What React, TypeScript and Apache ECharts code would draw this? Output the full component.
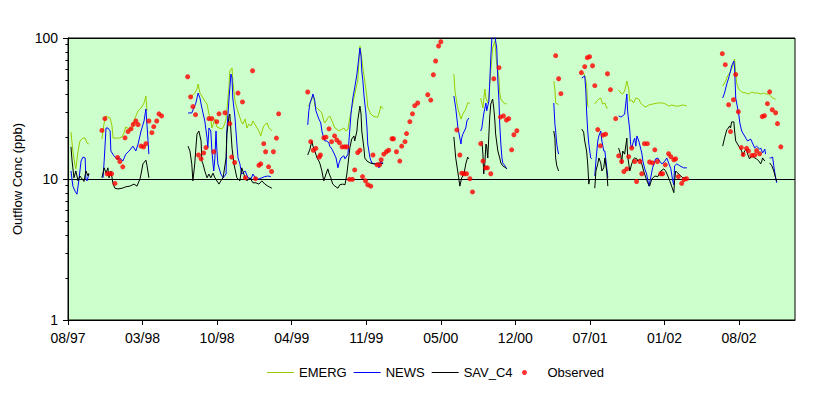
import React, { useEffect, useRef } from 'react';
import * as echarts from 'echarts';

type Pt = [number, number];

// x values are days counted from the first labelled tick (08/97)
const xTickLabels = ['08/97', '03/98', '10/98', '04/99', '11/99', '05/00', '12/00', '07/01', '01/02', '08/02'];
const X_STEP = 200;
const X_MAX = 1950;
const yMinorTicks = [2, 3, 4, 5, 6, 7, 8, 9, 20, 30, 40, 50, 60, 70, 80, 90];

const emergSegments: Pt[][] = [
  [[8,21.5],[13,15.8],[19,12.4],[21,11.8],[27,15.8],[32,18.6],[40,19.5],[46,19.5],[51,18.0],[56,17.7]],
  [[91,19.2],[97,25.0],[102,28.0],[107,27.5],[113,27.1],[118,23.8],[121,19.5],[129,19.5],[137,19.5],[145,19.9],[150,21.2],[155,23.4],[164,22.6],[172,22.6],[180,27.1],[188,30.4],[196,31.9],[204,34.6],[209,38.8],[212,30.4]],
  [[324,38.8],[332,38.8],[340,40.7],[346,43.5],[349,47.2],[354,40.7],[359,38.8],[367,35.7],[373,34.0],[378,28.9],[383,26.6],[386,23.0],[394,26.6],[399,23.4],[405,23.0],[413,22.6],[418,23.8],[424,26.6],[426,30.4],[432,45.6],[434,58.3],[440,61.3],[442,49.5],[448,35.7],[453,31.9],[458,28.9],[464,25.8],[469,24.5],[475,26.6],[480,23.0],[485,24.5],[491,23.8],[496,25.8],[504,23.8],[512,21.9],[517,20.2],[525,23.8],[534,25.0],[539,23.0],[547,21.9]],
  [[643,32.9],[649,34.0],[657,38.8],[660,37.5],[662,32.9],[670,31.4],[676,30.4],[681,29.4],[686,25.8],[689,25.0],[697,27.1],[702,28.0],[708,25.8],[716,23.0],[721,22.6],[727,21.9],[735,22.6],[740,23.0],[745,21.9],[751,22.6],[753,24.5],[756,27.1],[761,31.9],[767,37.5],[772,43.5],[777,49.5],[780,66.5],[783,87.8],[786,78.3],[791,61.3],[794,53.8],[799,43.5],[802,37.5],[804,32.4],[812,28.9],[818,28.0],[826,27.5],[831,27.5],[836,30.4],[839,32.9],[845,31.4]],
  [[1035,55.5],[1038,42.1],[1043,34.6],[1046,31.4],[1054,26.6],[1059,28.9],[1067,31.4],[1072,34.6],[1078,34.6]],
  [[1107,37.5],[1113,31.9],[1118,43.5],[1121,37.5],[1126,34.6],[1129,38.8],[1134,58.3],[1139,84.9],[1145,95.2],[1147,80.9],[1150,65.4],[1156,52.0],[1158,40.7],[1161,36.9],[1169,34.6],[1174,34.0],[1177,34.6]],
  [[1303,49.5],[1306,43.5],[1308,34.6],[1314,34.0],[1316,33.5]],
  [[1383,56.5],[1386,53.8],[1391,47.2],[1394,32.9],[1397,32.4]],
  [[1413,34.0],[1418,35.7],[1424,36.9],[1429,37.5],[1434,34.0],[1440,34.6],[1445,31.9],[1448,31.9]],
  [[1477,42.8],[1483,40.7],[1488,40.1],[1493,42.1],[1499,49.5],[1504,43.5],[1507,35.7],[1512,36.3],[1517,34.6],[1523,37.5],[1531,36.9],[1536,34.6],[1544,32.9],[1550,32.4],[1558,33.5],[1568,34.0],[1582,34.6],[1595,34.6],[1603,34.0],[1611,32.9],[1619,33.5],[1630,32.9],[1638,32.9],[1649,33.5],[1660,32.9]],
  [[1756,45.6],[1764,49.5],[1769,53.8],[1775,56.5],[1783,63.3],[1788,71.0],[1791,55.5],[1794,47.2],[1799,43.5],[1807,41.4],[1818,40.7],[1826,40.1],[1834,41.4],[1842,40.7],[1850,40.7],[1858,40.1],[1866,40.7],[1871,40.1],[1879,40.1],[1885,38.8],[1890,37.5],[1898,36.9]],
];

const newsSegments: Pt[][] = [
  [[8,11.4],[13,8.9],[19,8.2],[24,7.8],[29,9.7],[35,13.4],[40,14.3],[46,14.1],[48,10.0],[51,9.7],[56,10.85]],
  [[94,10.2],[97,13.4],[102,23.0],[107,23.0],[113,21.9],[115,15.8],[123,14.6],[131,13.9],[139,14.1],[147,13.4],[155,15.0],[164,15.8],[174,17.1],[182,15.8],[188,17.7],[196,21.9],[204,25.8],[209,31.4],[212,23.8],[217,15.0]],
  [[322,29.4],[332,29.4],[343,34.6],[349,40.7],[354,37.5],[357,34.0],[362,29.4],[367,25.8],[373,19.5],[375,16.6],[378,23.0],[383,21.9],[386,15.8],[389,12.8],[391,11.4],[394,14.1],[397,21.9],[399,16.6],[402,12.8],[410,10.85],[416,10.2],[424,10.85],[426,21.9],[432,37.5],[437,55.5],[440,52.0],[442,37.5],[448,27.1],[453,17.7],[456,14.1],[461,12.8],[466,10.85],[475,11.4],[483,10.2],[491,10.0],[496,10.85],[504,10.0],[512,10.0],[520,10.2],[528,10.4],[536,10.5],[544,10.4]],
  [[643,24.2],[646,30.4],[649,34.6],[654,37.5],[657,40.1],[662,35.7],[665,30.4],[673,26.6],[678,25.0],[681,21.9],[686,19.5],[689,18.6],[694,18.6],[700,18.0],[702,17.1],[708,16.3],[713,15.3],[719,14.1],[724,12.0],[727,13.0],[732,14.1],[740,14.6],[743,13.9],[751,15.0],[753,17.7],[759,28.9],[764,37.5],[769,44.2],[775,55.5],[780,72.2],[783,84.9],[786,74.5],[788,58.3],[791,49.5],[794,38.8],[799,29.4],[802,23.0],[804,17.7],[810,14.1],[815,13.0],[823,12.8],[828,12.8],[831,13.0],[834,12.0],[839,13.4],[845,12.8]],
  [[1035,38.8],[1040,31.9],[1046,23.0],[1054,17.7],[1056,19.5],[1059,20.8],[1067,23.0],[1070,25.8],[1075,27.1]],
  [[1107,21.9],[1110,23.0],[1115,28.9],[1121,34.6],[1123,30.4],[1129,35.7],[1131,47.2],[1134,72.2],[1137,100],[1142,112],[1145,103],[1147,95.2],[1150,84.9],[1153,49.5],[1156,35.7],[1158,24.5],[1161,17.7],[1164,14.1],[1166,13.0],[1172,12.4],[1177,11.8]],
  [[1303,34.6],[1306,24.5],[1308,21.9],[1311,17.7],[1314,15.8],[1316,15.0]],
  [[1378,52.0],[1386,53.8],[1389,42.1],[1391,30.4],[1394,21.9],[1397,17.7],[1402,14.1],[1405,13.9]],
  [[1413,10.5],[1416,13.4],[1421,18.6],[1424,20.2],[1429,21.9],[1432,18.6],[1437,15.8],[1440,15.8],[1445,12.0],[1448,10.2]],
  [[1477,28.0],[1483,27.5],[1488,28.0],[1493,28.9],[1496,34.0],[1499,40.1],[1501,30.4],[1507,21.9],[1509,17.7],[1512,16.6],[1517,18.6],[1520,19.5],[1523,17.1],[1526,20.2],[1531,18.6],[1539,15.3],[1542,13.4],[1547,11.8],[1552,10.85],[1558,8.9],[1563,10.2],[1568,12.0],[1576,13.9],[1582,14.1],[1587,13.4],[1593,12.8],[1601,13.4],[1606,14.1],[1611,13.0],[1617,11.8],[1622,9.7],[1625,9.1],[1627,12.4],[1633,12.8],[1641,12.4],[1651,12.0],[1660,12.0]],
  [[1756,37.5],[1761,40.7],[1767,47.2],[1772,52.0],[1777,58.3],[1780,63.3],[1786,68.7],[1788,61.3],[1791,37.5],[1794,34.0],[1799,28.9],[1802,25.0],[1807,21.9],[1818,19.5],[1823,18.6],[1831,19.2],[1836,18.0],[1842,16.6],[1847,17.1],[1855,16.3],[1858,16.6],[1863,15.3],[1869,16.3],[1871,15.0]],
  [[1882,14.1],[1885,14.1],[1890,14.3],[1893,12.4],[1898,10.2],[1901,9.4]],
];

const savSegments: Pt[][] = [
  [[8,16.9],[11,13.4],[16,10.2],[21,11.4],[27,9.7],[32,10.5],[38,10.0],[43,9.6],[48,11.4],[54,10.5],[56,11.0]],
  [[91,10.2],[97,12.0],[102,11.0],[107,12.0],[110,10.2],[115,11.4],[121,9.2],[126,8.6],[134,8.5],[145,8.6],[155,8.8],[166,8.9],[177,9.2],[185,8.9],[193,10.0],[196,10.85],[201,12.8],[209,13.6],[212,12.4],[217,10.2]],
  [[322,17.1],[327,15.8],[332,12.8],[335,9.7],[340,12.8],[343,16.6],[346,20.8],[351,21.9],[357,18.6],[359,13.4],[362,12.8],[367,11.4],[373,10.2],[378,10.85],[383,10.2],[389,11.0],[394,10.2],[405,9.2],[410,9.7],[416,10.2],[424,14.1],[426,20.8],[432,28.0],[434,28.9],[437,21.9],[440,16.6],[445,12.8],[453,10.2],[461,9.7],[466,12.0],[475,10.2],[480,9.7],[488,10.2],[496,9.4],[504,9.4],[512,9.2],[520,9.7],[528,9.2],[536,8.9],[547,8.6]],
  [[643,14.8],[649,16.3],[654,18.6],[657,17.1],[662,15.8],[668,14.1],[673,13.4],[676,12.8],[681,11.4],[686,9.7],[692,10.85],[697,11.8],[700,11.0],[705,10.2],[710,9.2],[716,8.9],[724,8.6],[729,9.1],[737,9.2],[743,9.1],[748,10.85],[753,14.1],[756,16.6],[761,19.2],[767,20.2],[769,18.6],[775,21.9],[777,25.8],[783,32.9],[786,28.9],[788,21.9],[794,16.3],[796,14.1],[802,13.4],[810,13.0],[820,12.8],[828,12.8],[834,13.0],[839,12.8],[845,13.0]],
  [[1035,19.9],[1040,14.1],[1048,10.2],[1051,8.9],[1056,10.2],[1062,10.85],[1067,12.8],[1072,14.3],[1075,13.9]],
  [[1110,18.6],[1113,15.0],[1115,10.85],[1118,12.8],[1121,17.7],[1123,17.1],[1126,14.1],[1129,20.8],[1131,27.1],[1134,34.0],[1139,36.9],[1142,31.9],[1145,25.8],[1147,20.8],[1153,15.8],[1158,14.1],[1161,13.0],[1166,12.4],[1174,12.0],[1177,11.8]],
  [[1303,21.9],[1306,19.5],[1308,14.1],[1311,12.4],[1316,11.4]],
  [[1378,22.6],[1383,21.5],[1386,18.6],[1391,15.8],[1394,12.8],[1397,9.2],[1399,10.0]],
  [[1413,8.6],[1416,11.4],[1421,12.8],[1424,14.1],[1429,13.0],[1432,11.4],[1437,12.0],[1440,14.1],[1445,11.4],[1448,8.9]],
  [[1477,16.6],[1483,14.6],[1485,12.8],[1488,15.8],[1493,15.0],[1499,19.5],[1501,14.6],[1507,11.4],[1512,12.8],[1517,13.9],[1520,14.1],[1526,13.9],[1528,13.4],[1534,13.9],[1539,12.8],[1544,11.4],[1550,10.2],[1555,9.4],[1560,8.9],[1566,10.0],[1574,10.5],[1582,10.4],[1590,11.4],[1598,11.8],[1603,11.4],[1609,10.5],[1614,9.7],[1619,8.9],[1625,8.0],[1627,9.7],[1630,11.4],[1638,10.85],[1649,10.2],[1660,10.2]],
  [[1756,17.1],[1761,19.5],[1767,22.3],[1769,22.6],[1775,23.8],[1777,23.0],[1780,25.4],[1786,25.4],[1788,21.9],[1791,18.6],[1796,17.7],[1802,16.6],[1807,15.8],[1810,14.6],[1815,15.8],[1820,16.3],[1823,15.0],[1828,13.9],[1834,14.6],[1842,14.1],[1847,13.9],[1853,13.4],[1858,12.8],[1861,13.4],[1863,14.1],[1869,13.4]],
  [[1882,13.0],[1888,12.4],[1893,11.4],[1898,10.2],[1901,9.6]],
];

const observed: Pt[] = [
  [91,22.1],[99,26.8],[105,10.9],[111,10.9],[117,10.9],[126,9.3],[133,14.2],[139,13.3],[147,12.2],[153,19.6],
  [161,21.7],[169,22.7],[175,24.4],[182,25.8],[188,24.3],[196,17.1],[203,16.9],[209,17.8],[217,25.8],[225,21.3],
  [230,23.5],[238,25.8],[244,29.0],[251,28.0],[321,53.1],[329,38.2],[335,32.6],[342,28.6],[350,14.8],[357,13.9],
  [364,15.3],[370,16.7],[378,26.8],[386,26.8],[391,15.6],[399,25.5],[405,29.0],[421,29.5],[434,24.7],[439,14.3],
  [447,13.1],[456,40.7],[468,35.2],[476,10.2],[495,58.6],[503,10.05],[512,12.5],[517,12.8],[525,17.8],[530,15.6],
  [538,12.2],[546,11.3],[551,15.6],[559,19.5],[565,29.0],[643,41.4],[651,18.4],[658,16.0],[665,16.5],[674,14.3],
  [677,14.8],[686,19.6],[692,19.8],[700,22.7],[707,18.4],[715,20.2],[721,18.9],[728,18.1],[735,16.9],[742,16.9],
  [748,16.9],[755,9.95],[763,9.95],[769,11.6],[777,15.4],[783,16.0],[790,10.4],[798,9.7],[804,9.1],[812,8.9],
  [818,14.8],[829,12.6],[836,12.6],[840,13.7],[847,15.0],[854,15.6],[860,16.0],[869,19.3],[873,19.3],[881,15.6],
  [890,13.4],[895,17.1],[904,18.4],[908,21.0],[917,25.5],[924,29.0],[930,33.1],[938,34.6],[965,39.6],[973,36.3],
  [980,54.9],[986,68.7],[994,87.8],[1000,94.1],[1043,22.3],[1051,14.8],[1056,11.0],[1062,10.9],[1069,10.9],[1078,10.05],
  [1085,8.1],[1107,17.8],[1113,13.4],[1120,12.0],[1125,12.0],[1134,10.9],[1142,51.4],[1156,61.6],[1160,27.5],[1168,28.0],
  [1176,26.2],[1182,26.8],[1190,16.1],[1196,20.6],[1204,22.0],[1308,74.9],[1316,51.4],[1322,40.3],[1377,56.8],[1386,62.6],
  [1393,72.5],[1399,73.7],[1407,63.6],[1413,45.9],[1421,22.4],[1428,17.2],[1435,20.5],[1442,20.8],[1447,55.8],[1455,43.0],
  [1469,26.8],[1477,14.6],[1485,13.3],[1491,11.3],[1499,11.8],[1504,14.4],[1512,16.6],[1520,13.3],[1525,9.6],[1534,13.3],
  [1539,10.9],[1546,17.8],[1554,17.8],[1560,13.2],[1568,13.0],[1574,16.1],[1581,13.3],[1590,10.9],[1595,10.9],[1602,12.6],
  [1611,15.1],[1617,14.4],[1625,13.7],[1630,13.9],[1637,10.4],[1646,9.3],[1652,9.9],[1659,10.05],[1755,77.4],[1763,64.7],
  [1791,55.1],[1772,33.6],[1785,36.5],[1777,21.7],[1798,30.0],[1806,16.7],[1811,14.9],[1820,16.5],[1825,15.8],[1834,14.7],
  [1842,14.8],[1847,15.9],[1855,15.1],[1862,27.7],[1868,28.1],[1876,34.2],[1882,41.5],[1889,31.0],[1898,29.5],[1903,24.7],
  [1912,16.9],
];

// join segments with an empty point so the line breaks between runs
const joinSegments = (segs: Pt[][]) => {
  const out: (number | string)[][] = [];
  segs.forEach((seg, i) => {
    if (i > 0) out.push([seg[0][0] - 0.5, '-']);
    seg.forEach((p) => out.push([p[0], p[1]]));
  });
  return out;
};

const FONT = '"Liberation Sans", Arial, sans-serif';

export default function App() {
  const ref = useRef<HTMLDivElement>(null);

  useEffect(() => {
    if (!ref.current) return;
    const chart = echarts.init(ref.current, undefined, { renderer: 'svg' });
    const tickValues = xTickLabels.map((_, i) => i * X_STEP);

    chart.setOption({
      animation: false,
      backgroundColor: '#ffffff',
      textStyle: { fontFamily: FONT },
      grid: {
        left: 68,
        top: 38,
        width: 727,
        height: 282,
        show: true,
        backgroundColor: '#CCFFCC',
        borderColor: '#000000',
        borderWidth: 1,
      },
      legend: [
        {
          data: [
            { name: 'EMERG', icon: 'rect' },
            { name: 'NEWS', icon: 'rect' },
            { name: 'SAV_C4', icon: 'rect' },
          ],
          left: 262,
          top: 361,
          itemWidth: 27,
          itemHeight: 1,
          itemGap: 7,
          textStyle: { fontFamily: FONT, fontSize: 13, color: '#000' },
          selectedMode: false,
        },
        {
          data: [{ name: 'Observed', icon: 'circle' }],
          left: 517,
          top: 361,
          itemWidth: 36,
          itemHeight: 5,
          textStyle: { fontFamily: FONT, fontSize: 13, color: '#000' },
          selectedMode: false,
        },
      ],
      xAxis: {
        type: 'value',
        min: 0,
        max: X_MAX,
        interval: X_STEP,
        axisLine: { show: true, lineStyle: { color: '#000', width: 1 } },
        axisTick: { show: true, length: 5, lineStyle: { color: '#000' }, customValues: tickValues },
        axisLabel: {
          color: '#000',
          fontSize: 14,
          fontFamily: FONT,
          margin: 11,
          customValues: tickValues,
          formatter: (v: number) => {
            const i = Math.round(v / X_STEP);
            return Math.abs(v - i * X_STEP) < 1e-6 && i < xTickLabels.length ? xTickLabels[i] : '';
          },
        },
        splitLine: { show: false },
      },
      yAxis: {
        type: 'log',
        logBase: 10,
        min: 1,
        max: 100,
        name: 'Outflow Conc (ppb)',
        nameLocation: 'middle',
        nameRotate: 90,
        nameGap: 40,
        nameTextStyle: { color: '#000', fontSize: 13, fontFamily: FONT },
        axisLine: { show: true, lineStyle: { color: '#000', width: 1 } },
        axisTick: { show: true, length: 5, lineStyle: { color: '#000' } },
        axisLabel: { color: '#000', fontSize: 14, fontFamily: FONT, margin: 10 },
        splitLine: { show: true, lineStyle: { color: '#000', width: 1 } },
      },
      series: [
        {
          name: 'EMERG',
          type: 'line',
          data: joinSegments(emergSegments),
          symbol: 'none',
          connectNulls: false,
          lineStyle: { color: '#99CC00', width: 1 },
          itemStyle: { color: '#99CC00' },
          z: 2,
        },
        {
          name: 'NEWS',
          type: 'line',
          data: joinSegments(newsSegments),
          symbol: 'none',
          connectNulls: false,
          lineStyle: { color: '#0000FF', width: 1 },
          itemStyle: { color: '#0000FF' },
          z: 3,
        },
        {
          name: 'SAV_C4',
          type: 'line',
          data: joinSegments(savSegments),
          symbol: 'none',
          connectNulls: false,
          lineStyle: { color: '#000000', width: 1 },
          itemStyle: { color: '#000000' },
          z: 4,
        },
        {
          name: 'Observed',
          type: 'scatter',
          data: observed,
          symbol: 'circle',
          symbolSize: 5,
          itemStyle: { color: '#FF0000' },
          z: 5,
        },
        {
          name: 'minorTicks',
          type: 'custom',
          silent: true,
          clip: false,
          data: yMinorTicks.map((v) => [0, v]),
          renderItem: (_params: any, api: any) => {
            const p = api.coord([0, api.value(1)]);
            const y = Math.round(p[1]) + 0.5;
            const x = Math.round(p[0]) + 0.5;
            return {
              type: 'line',
              shape: { x1: x - 3, y1: y, x2: x, y2: y },
              style: { stroke: '#000', lineWidth: 1 },
            };
          },
          z: 6,
        },
      ],
    });

    return () => chart.dispose();
  }, []);

  return (
    <div
      ref={ref}
      style={{ position: 'absolute', left: 0, top: 0, width: 829, height: 396 }}
    />
  );
}
